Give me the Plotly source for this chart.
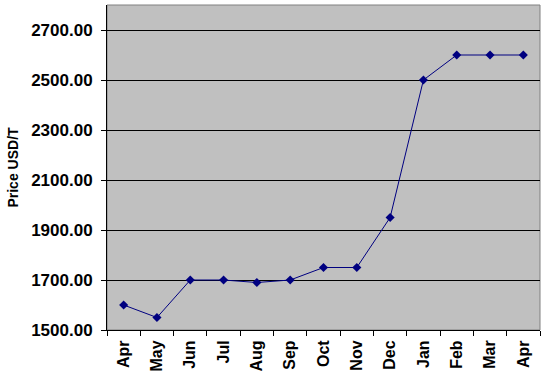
import plotly.graph_objects as go

months = ["Apr", "May", "Jun", "Jul", "Aug", "Sep", "Oct", "Nov", "Dec", "Jan", "Feb", "Mar", "Apr"]
prices = [1600, 1550, 1700, 1700, 1690, 1700, 1750, 1750, 1950, 2500, 2600, 2600, 2600]
y_ticks = [1500, 1700, 1900, 2100, 2300, 2500, 2700]

x_pos = list(range(len(months)))

fig = go.Figure()
fig.add_trace(go.Scatter(
    x=x_pos, y=prices, mode="lines+markers",
    line=dict(color="#000080", width=1),
    marker=dict(symbol="diamond", size=7, color="#000080"),
))

font_family = "Liberation Sans, Arial, sans-serif"

fig.update_layout(
    width=545, height=379,
    margin=dict(l=107, r=5, t=5, b=49),
    paper_bgcolor="white",
    plot_bgcolor="#C0C0C0",
    showlegend=False,
    font=dict(family=font_family, color="black"),
    shapes=[dict(type="rect", xref="paper", yref="paper", x0=0, y0=0, x1=1, y1=1,
                 line=dict(color="#808080", width=1), layer="below")],
)

fig.update_xaxes(
    range=[-0.5, len(months) - 0.5],
    tickmode="array", tickvals=x_pos, ticktext=months,
    tickangle=-90, ticks="", showgrid=False, zeroline=False,
    showline=True, linecolor="black", linewidth=1,
    tickfont=dict(size=16, family=font_family, weight="bold"),
    ticklabelstandoff=3,
    minor=dict(tick0=0.5, dtick=1, ticks="outside", ticklen=5, tickcolor="black", showgrid=False),
)

fig.update_yaxes(
    range=[1500, 2800],
    tickmode="array", tickvals=y_ticks, ticktext=[f"{v:.2f}" for v in y_ticks],
    ticks="outside", ticklen=5, tickcolor="black",
    showgrid=True, gridcolor="black", gridwidth=1, zeroline=False,
    showline=True, linecolor="black", linewidth=1,
    tickfont=dict(size=17, family=font_family, weight="bold"),
    ticklabelstandoff=5,
    title=dict(text="Price USD/T", font=dict(size=14, family=font_family, weight="bold"), standoff=9),
)

fig.write_html("out.html")
